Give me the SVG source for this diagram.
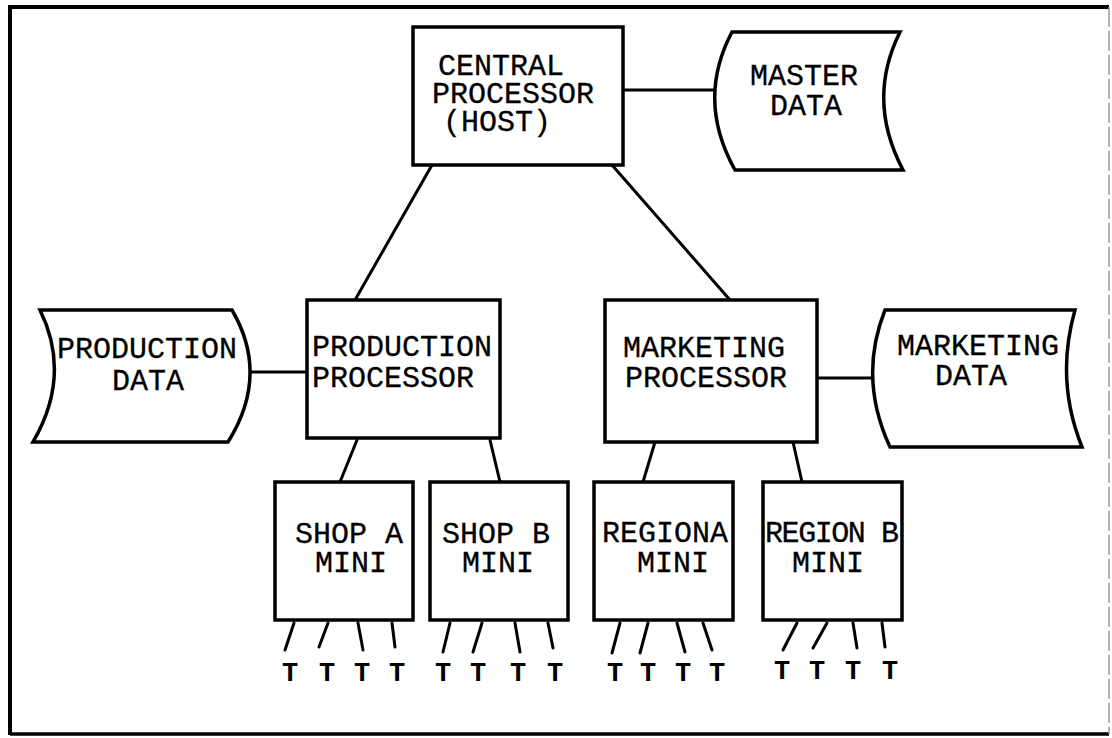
<svg xmlns="http://www.w3.org/2000/svg" width="1112" height="738" viewBox="0 0 1112 738">
<style>
.box{fill:#fff;stroke:#000;stroke-width:3.5}
.ln{stroke:#000;stroke-width:3;fill:none;stroke-linecap:round}
.t{font-family:"Liberation Mono","Courier New",monospace;font-size:30px;fill:#000;stroke:#000;stroke-width:0.3}
.tt{font-family:"Liberation Mono","Courier New",monospace;font-size:27px;font-weight:bold;fill:#000;text-anchor:middle}
</style>
<rect width="1112" height="738" fill="#fff"/>
<g id="frame">
<path d="M10,735 L10,7 L1109,7" fill="none" stroke="#000" stroke-width="4"/>
<path d="M10,734 L1109,734" fill="none" stroke="#000" stroke-width="3.5"/>
<path d="M1109,7 L1109,734" fill="none" stroke="#999" stroke-width="1.5" stroke-dasharray="20 4"/>
</g>
<g id="connectors">
<line class="ln" x1="623" y1="90" x2="715" y2="90"/>
<line class="ln" x1="432" y1="165" x2="355" y2="300"/>
<line class="ln" x1="612" y1="165" x2="730" y2="300"/>
<line class="ln" x1="245" y1="372" x2="307" y2="372"/>
<line class="ln" x1="817" y1="378" x2="873" y2="378"/>
<line class="ln" x1="357" y1="440" x2="340" y2="482"/>
<line class="ln" x1="490" y1="440" x2="500" y2="482"/>
<line class="ln" x1="655" y1="442" x2="643" y2="482"/>
<line class="ln" x1="793" y1="442" x2="802" y2="482"/>
<line class="ln" x1="294" y1="623" x2="285" y2="650"/>
<line class="ln" x1="328" y1="623" x2="319" y2="647"/>
<line class="ln" x1="358" y1="623" x2="363" y2="650"/>
<line class="ln" x1="392" y1="623" x2="395" y2="647"/>
<line class="ln" x1="450" y1="623" x2="443" y2="652"/>
<line class="ln" x1="482" y1="623" x2="473" y2="652"/>
<line class="ln" x1="515" y1="623" x2="520" y2="652"/>
<line class="ln" x1="548" y1="623" x2="553" y2="648"/>
<line class="ln" x1="620" y1="623" x2="612" y2="653"/>
<line class="ln" x1="648" y1="623" x2="640" y2="653"/>
<line class="ln" x1="677" y1="623" x2="685" y2="652"/>
<line class="ln" x1="703" y1="623" x2="712" y2="650"/>
<line class="ln" x1="797" y1="623" x2="783" y2="650"/>
<line class="ln" x1="827" y1="623" x2="813" y2="648"/>
<line class="ln" x1="853" y1="623" x2="857" y2="648"/>
<line class="ln" x1="882" y1="623" x2="885" y2="647"/>
</g>
<g id="central">
<rect class="box" x="413" y="27" width="210" height="138"/>
<text class="t" x="438" y="75">CENTRAL</text>
<text class="t" x="432" y="103">PROCESSOR</text>
<text class="t" x="443" y="131">(HOST)</text>
</g>
<g id="master-data">
<path class="box" d="M732,32 L900,32 Q866,100 903,170 L735,170 Q696,100 732,32 Z"/>
<text class="t" x="750" y="85">MASTER</text>
<text class="t" x="770" y="115">DATA</text>
</g>
<g id="production-data">
<path class="box" d="M40,310 L232,310 Q270,375 228,442 L33,442 Q72,375 40,310 Z"/>
<text class="t" x="57" y="358">PRODUCTION</text>
<text class="t" x="112" y="390">DATA</text>
</g>
<g id="production-processor">
<rect class="box" x="307" y="300" width="193" height="138"/>
<text class="t" x="312" y="356">PRODUCTION</text>
<text class="t" x="312" y="387">PROCESSOR</text>
</g>
<g id="marketing-processor">
<rect class="box" x="605" y="300" width="212" height="142"/>
<text class="t" x="623" y="357">MARKETING</text>
<text class="t" x="625" y="387">PROCESSOR</text>
</g>
<g id="marketing-data">
<path class="box" d="M885,310 L1075,310 Q1055,380 1082,447 L890,447 Q858,378 885,310 Z"/>
<text class="t" x="897" y="355">MARKETING</text>
<text class="t" x="935" y="385">DATA</text>
</g>
<g id="shop-a">
<rect class="box" x="275" y="482" width="138" height="138"/>
<text class="t" x="295" y="543">SHOP A</text>
<text class="t" x="315" y="572">MINI</text>
</g>
<g id="shop-b">
<rect class="box" x="430" y="482" width="138" height="138"/>
<text class="t" x="442" y="543">SHOP B</text>
<text class="t" x="462" y="572">MINI</text>
</g>
<g id="region-a">
<rect class="box" x="594" y="482" width="139" height="138"/>
<text class="t" x="602" y="542">REGIONA</text>
<text class="t" x="637" y="572">MINI</text>
</g>
<g id="region-b">
<rect class="box" x="763" y="482" width="139" height="138"/>
<text class="t" x="765" y="542" textLength="134" lengthAdjust="spacing">REGION B</text>
<text class="t" x="792" y="572">MINI</text>
</g>
<g id="terminals">
<text class="tt" x="290" y="681">T</text>
<text class="tt" x="327" y="681">T</text>
<text class="tt" x="362" y="681">T</text>
<text class="tt" x="397" y="681">T</text>
<text class="tt" x="443" y="681">T</text>
<text class="tt" x="478" y="681">T</text>
<text class="tt" x="518" y="681">T</text>
<text class="tt" x="555" y="681">T</text>
<text class="tt" x="615" y="681">T</text>
<text class="tt" x="648" y="681">T</text>
<text class="tt" x="683" y="681">T</text>
<text class="tt" x="717" y="681">T</text>
<text class="tt" x="782" y="679">T</text>
<text class="tt" x="817" y="679">T</text>
<text class="tt" x="853" y="679">T</text>
<text class="tt" x="890" y="679">T</text>
</g>
</svg>
